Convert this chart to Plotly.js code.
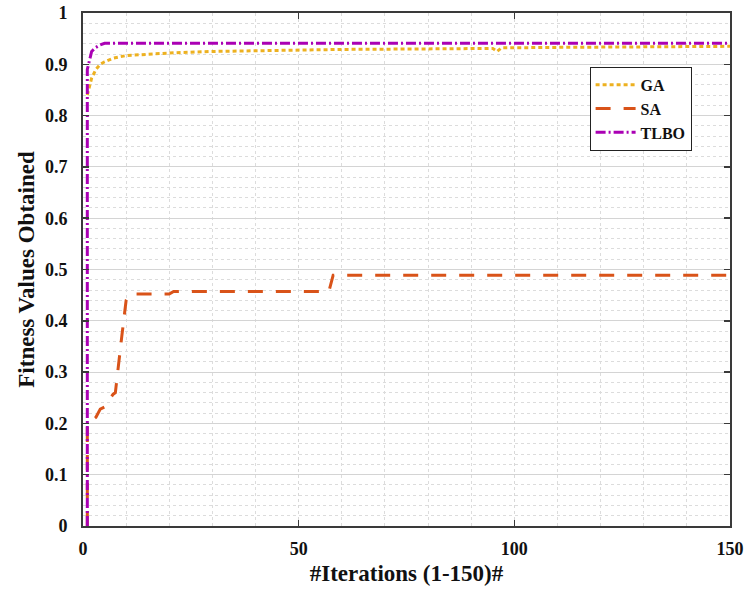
<!DOCTYPE html>
<html>
<head>
<meta charset="utf-8">
<script src="https://cdn.plot.ly/plotly-3.0.1.min.js"></script>
<style>html,body{margin:0;padding:0;background:#fff;}#chart{width:746px;height:589px;}</style>
</head>
<body>
<div id="chart"></div>
<script>
// Data
const seriesNames = ["GA", "SA", "TLBO"];
const gaIter = [1, 2, 3, 4, 5, 7, 10, 15, 20, 30, 43, 60, 80, 95, 96, 97, 110, 130, 150];
const gaFit  = [0.84, 0.873, 0.89, 0.90, 0.905, 0.912, 0.917, 0.920, 0.922, 0.925, 0.927, 0.929, 0.930, 0.931, 0.925, 0.932, 0.933, 0.934, 0.935];
const saIter = [1, 1, 2, 3, 4, 5, 6, 7, 7.5, 8, 9, 10, 11, 20, 21, 57, 58, 150];
const saFit  = [0, 0.20, 0.205, 0.212, 0.228, 0.232, 0.245, 0.257, 0.26, 0.30, 0.37, 0.44, 0.452, 0.452, 0.457, 0.457, 0.489, 0.489];
const tlboIter = [1, 1, 2, 3, 4, 5, 150];
const tlboFit  = [0, 0.89, 0.925, 0.933, 0.938, 0.941, 0.941];
const xTicks = [0, 50, 100, 150];
const yTicks = [0, 0.1, 0.2, 0.3, 0.4, 0.5, 0.6, 0.7, 0.8, 0.9, 1];
const yTickText = ["0", "0.1", "0.2", "0.3", "0.4", "0.5", "0.6", "0.7", "0.8", "0.9", "1"];

const serif = "Liberation Serif, Times New Roman, serif";

const traces = [
  {x: gaIter, y: gaFit, name: seriesNames[0], mode: "lines",
   line: {color: "#EDB120", width: 3, dash: "4px,3px"}},
  {x: saIter, y: saFit, name: seriesNames[1], mode: "lines",
   line: {color: "#D95319", width: 3, dash: "15px,13px"}},
  {x: tlboIter, y: tlboFit, name: seriesNames[2], mode: "lines",
   line: {color: "#AA00B4", width: 3, dash: "10px,3px,2px,3px"}}
];

const axisCommon = {
  showline: true, linecolor: "#3a3a3a", linewidth: 1.8, mirror: "ticks",
  ticks: "inside", ticklen: 6, tickcolor: "#3a3a3a", tickwidth: 1.5,
  zeroline: false,
  tickfont: {family: serif, size: 18, color: "#111", weight: "bold"}
};

const layout = {
  width: 746, height: 589,
  margin: {l: 83, r: 16, t: 13, b: 63},
  paper_bgcolor: "#fff", plot_bgcolor: "#fff",
  showlegend: true,
  legend: {
    x: 0.783, y: 0.895, xanchor: "left", yanchor: "top",
    bgcolor: "#fff", bordercolor: "#222", borderwidth: 1,
    font: {family: serif, size: 16, color: "#111", weight: "bold"},
    itemwidth: 40, tracegroupgap: 0
  },
  xaxis: Object.assign({}, axisCommon, {
    range: [0, 150], tickvals: xTicks, ticktext: xTicks.map(String),
    showgrid: true, gridcolor: "#d8d8d8", gridwidth: 1, griddash: "dot",
    minor: {dtick: 10, tick0: 0, showgrid: true, gridcolor: "#dcdcdc", griddash: "dot", ticks: ""},
    ticklabelstandoff: 6,
    title: {text: "#Iterations (1-150)#", font: {family: serif, size: 23, color: "#111", weight: "bold"}, standoff: 6}
  }),
  yaxis: Object.assign({}, axisCommon, {
    range: [0, 1], tickvals: yTicks, ticktext: yTickText,
    showgrid: true, gridcolor: "#d4d4d4", gridwidth: 1,
    minor: {dtick: 0.02, tick0: 0, showgrid: true, gridcolor: "#dcdcdc", griddash: "dot", ticks: ""},
    ticklabelstandoff: 10,
    title: {text: "Fitness Values Obtained", font: {family: serif, size: 23, color: "#111", weight: "bold"}, standoff: 4}
  })
};

Plotly.newPlot("chart", traces, layout, {displayModeBar: false, staticPlot: true});
</script>
</body>
</html>
